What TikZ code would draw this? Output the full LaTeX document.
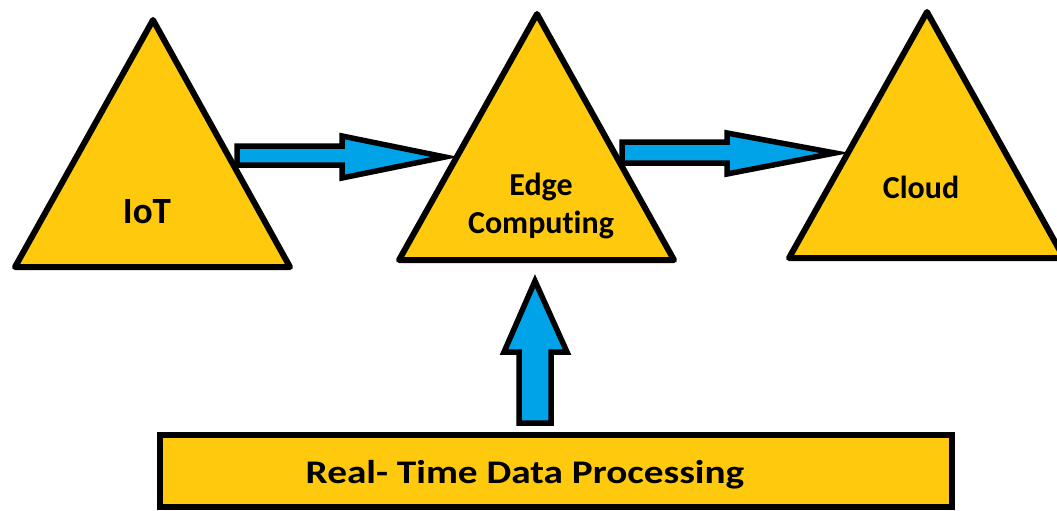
\documentclass[tikz,border=0pt]{standalone}
\usepackage{fontspec}
\setmainfont{Carlito}[Ligatures=NoCommon]
\definecolor{tri}{HTML}{FFC90E}
\definecolor{arr}{HTML}{00A2E8}
\tikzset{
  shapebox/.style={fill=tri,draw=black,line width=6pt,line join=round},
  blockarrow/.style={fill=arr,draw=black,line width=5.5pt,line join=miter,miter limit=20},
  lbl/.style={font=\bfseries\fontsize{32}{38}\selectfont,align=center,inner sep=0pt}
}
\begin{document}
\begin{tikzpicture}[x=1pt,y=-1pt]
\useasboundingbox (0,0) rectangle (1057,511);
% triangles
\draw[shapebox] (153,20) -- (290,267) -- (15,267) -- cycle;
\draw[shapebox] (537,14) -- (674,260) -- (399,260) -- cycle;
\draw[shapebox] (927,12) -- (1064,258) -- (789,258) -- cycle;
% bottom box
\draw[shapebox,line join=miter] (160,435) rectangle (952,507);
% labels
\node[lbl,font=\bfseries\fontsize{37}{40}\selectfont] (iot) at (147,212) {IoT};
\node[lbl] (edge) at (541,206) {Edge\\Computing};
\node[lbl] (cloud) at (921,187) {Cloud};
\node[lbl,anchor=base,font=\bfseries\fontsize{33}{38}\selectfont] (rtdp) at (525,483) {\scalebox{1.19}[1]{Real- Time Data Processing}};
% arrows
\draw[blockarrow] (237,146) -- (342,146) -- (342,136) -- (445,157) -- (342,178) -- (342,165) -- (237,165) -- cycle;
\draw[blockarrow] (622,142) -- (727,142) -- (727,133) -- (835,153) -- (727,174) -- (727,163) -- (622,163) -- cycle;
\draw[blockarrow] (519,423) -- (519,352) -- (504,352) -- (535,281) -- (567,352) -- (551,352) -- (551,423) -- cycle;
\end{tikzpicture}
\end{document}
